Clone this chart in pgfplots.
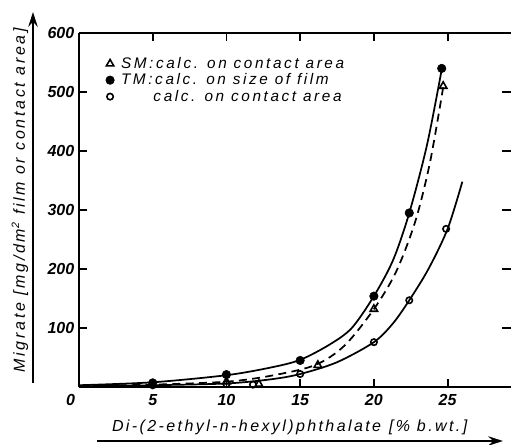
\documentclass[border=0pt]{standalone}
\usepackage{fontspec}
\setmainfont{Liberation Sans}
\newfontfamily\lab[LetterSpace=17]{Liberation Sans}
\newfontfamily\labx[LetterSpace=15]{Liberation Sans}
\usepackage{pgfplots}
\pgfplotsset{compat=1.18}
\usetikzlibrary{arrows.meta}
\begin{document}
\begin{tikzpicture}
\useasboundingbox (-59.25pt,-42.75pt) rectangle (326.25pt,290.25pt);
\begin{axis}[
  at={(0,0)}, anchor=south west,
  width=324pt, height=265.5pt, scale only axis,
  xmin=0, xmax=29.3, ymin=0, ymax=600,
  axis x line*=box, axis y line*=left,
  xtick={0,5,10,15,20,25}, ytick={0,100,200,300,400,500,600},
  xticklabels={\makebox[0pt][r]{0\hspace{3pt}},5,10,15,20,25},
  yticklabels={,100,200,300,400,500,600},
  tick align=inside, major tick length=6pt,
  tick style={line width=1.4pt, black},
  axis line style={line width=2pt},
  /pgf/number format/assume math mode=true,
  ticklabel style={font=\fontsize{12}{14}\selectfont\bfseries\itshape},
  xticklabel style={yshift=-2pt},
  clip=false,
  legend style={draw=none, fill=none, at={(axis cs:1.8,564)}, anchor=north west,
    font=\lab\itshape\fontsize{11.5}{13}\selectfont, row sep=-1.5pt,
    inner sep=0pt},
  legend cell align=left,
]
% curves
\addplot[smooth, line width=1.3pt, forget plot] coordinates {
 (0,3) (5,8) (10,20) (13,33) (15,46) (17,72) (18.5,100) (20,154) (21.3,215) (22.4,295) (23.6,410) (24.6,538)};
\addplot[smooth, line width=1.3pt, dash pattern=on 6pt off 4pt, forget plot] coordinates {
 (0,2) (5,4) (10,9) (13,19) (16,37) (18,70) (20,132) (21.5,195) (22.8,280) (23.8,380) (24.7,508)};
\addplot[smooth, line width=1.3pt, forget plot] coordinates {
 (0,1) (5,3) (10,6) (13,13) (15,22) (17.5,42) (20,76) (21.3,108) (22.4,147) (23.7,200) (25,268) (26,348)};
% markers
\addplot[only marks, mark=triangle, mark size=3.2pt, mark options={line width=1.2pt, fill=white}]
 coordinates {(5,4) (10,9) (12.2,5) (16.2,37) (20,132) (24.7,510)};
\addlegendentry{\hspace*{3pt}SM:calc. on contact area}
\addplot[only marks, mark=*, mark size=3.2pt, mark options={fill=black}]
 coordinates {(5,7) (10,21) (15,45) (20,154) (22.4,295) (24.6,540)};
\addlegendentry{\hspace*{3pt}TM:calc. on size of film}
\addplot[only marks, mark=o, mark size=2.4pt, mark options={line width=1.2pt, fill=white}]
 coordinates {(5,3) (10,5) (11.8,4) (15,22) (20,76) (22.4,147) (24.9,268)};
\addlegendentry{\hspace*{3pt}\phantom{SM:}calc. on contact area}
\end{axis}
% right-hand tick marks (no spine)
\draw[line width=1.5pt] (324pt,44.25pt) -- (317pt,44.25pt);
\draw[line width=1.5pt] (324pt,88.5pt) -- (317pt,88.5pt);
\draw[line width=1.5pt] (324pt,132.75pt) -- (317pt,132.75pt);
\draw[line width=1.5pt] (324pt,177pt) -- (317pt,177pt);
\draw[line width=1.5pt] (324pt,221.25pt) -- (317pt,221.25pt);
\node[rotate=90, font=\lab\itshape\fontsize{12}{14}\selectfont] at (-44.25pt,140pt)
  {Migrate [mg/dm\textsuperscript{2} film or contact area]};
\draw[line width=1.4pt, -{Stealth[length=11pt,width=7pt]}] (-34.5pt,3pt) -- (-34.5pt,281.25pt);
\node[font=\labx\itshape\fontsize{12}{14}\selectfont] at (158pt,-30pt)
  {Di-(2-ethyl-n-hexyl)phthalate\enspace[\% b.wt.]};
\draw[line width=1.4pt, -{Stealth[length=11pt,width=7pt]}] (13.5pt,-40.5pt) -- (318pt,-40.5pt);
\end{tikzpicture}
\end{document}
